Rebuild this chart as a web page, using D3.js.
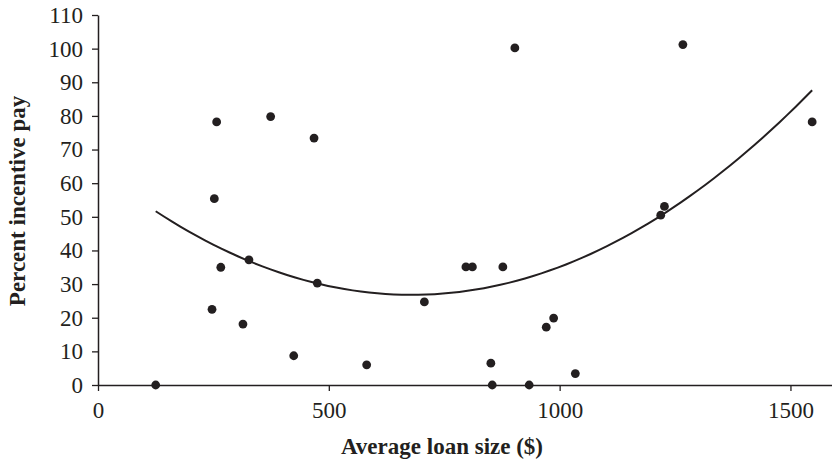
<!DOCTYPE html>
<html>
<head>
<meta charset="utf-8">
<script src="https://cdn.jsdelivr.net/npm/d3@7"></script>
<style>
  html, body { margin: 0; padding: 0; background: #fff; }
  svg { display: block; font-family: "Liberation Serif", "Times New Roman", serif; }
</style>
</head>
<body>
<div id="chart"></div>
<script>
// average loan size ($) and percent incentive pay
const loanSize = [125, 247, 252, 257, 266, 314, 327, 374, 424, 468, 475, 582, 707, 797,
  811, 851, 854, 877, 903, 934, 971, 987, 1034, 1219, 1227, 1267, 1547];
const incentivePay = [0, 22.5, 55.4, 78.2, 35, 18.1, 37.2, 79.8, 8.7, 73.4, 30.3, 6.0, 24.7, 35.1,
  35.1, 6.5, 0, 35.1, 100.2, 0, 17.2, 19.9, 3.4, 50.5, 53.1, 101.2, 78.2];

// quadratic trend curve at a few loan sizes
const trendX = [125, 250, 475, 704, 900, 1000, 1223, 1360, 1462, 1547];
const trendY = [51.6, 41.8, 30.2, 26.8, 30.7, 35.1, 50.7, 64.5, 76.0, 87.7];

const xTicks = [0, 500, 1000, 1500];
const yTicks = [0, 10, 20, 30, 40, 50, 60, 70, 80, 90, 100, 110];

const w = 832;
const h = 463;
const ink = "#231f20";

const points = loanSize.map((d, i) => ({ x: d, y: incentivePay[i] }));

// smooth the readings with a least squares parabola (it is a 2nd order trendline)
function quadFit(xs, ys) {
  const s = [0, 0, 0, 0, 0];
  const t = [0, 0, 0];
  xs.forEach((x, i) => {
    const u = x / 1000;
    for (let k = 0; k < 5; k++) s[k] += Math.pow(u, k);
    for (let k = 0; k < 3; k++) t[k] += ys[i] * Math.pow(u, k);
  });
  const m = [
    [s[0], s[1], s[2], t[0]],
    [s[1], s[2], s[3], t[1]],
    [s[2], s[3], s[4], t[2]]
  ];
  for (let i = 0; i < 3; i++) {
    for (let j = i + 1; j < 3; j++) {
      const f = m[j][i] / m[i][i];
      for (let k = i; k < 4; k++) m[j][k] -= f * m[i][k];
    }
  }
  const c = [0, 0, 0];
  for (let i = 2; i >= 0; i--) {
    let v = m[i][3];
    for (let k = i + 1; k < 3; k++) v -= m[i][k] * c[k];
    c[i] = v / m[i][i];
  }
  return (x) => c[0] + c[1] * (x / 1000) + c[2] * (x / 1000) * (x / 1000);
}

const trend = quadFit(trendX, trendY);
const tMin = d3.min(trendX);
const tMax = d3.max(trendX);
const trendData = d3.range(0, 81).map((i) => {
  const x = tMin + ((tMax - tMin) * i) / 80;
  return { x: x, y: trend(x) };
});

const svg = d3.select("#chart").append("svg").attr("width", w).attr("height", h);

const xScale = d3.scaleLinear().domain([0, 1590]).range([98, 832]);
const yScale = d3.scaleLinear().domain([0, 110]).range([385, 15]);

const xAxis = svg
  .append("g")
  .attr("transform", `translate(0,${yScale(0)})`)
  .call(d3.axisBottom(xScale).tickValues(xTicks).tickFormat(d3.format("d")).tickSizeInner(6).tickSizeOuter(0).tickPadding(11));

const yAxis = svg
  .append("g")
  .attr("transform", `translate(${xScale(0)},0)`)
  .call(d3.axisLeft(yScale).tickValues(yTicks).tickSizeInner(6).tickSizeOuter(0).tickPadding(9));

[xAxis, yAxis].forEach((g) => {
  g.attr("font-family", null).attr("font-size", null);
  g.select(".domain").attr("stroke", ink).attr("stroke-width", 1.5);
  g.selectAll(".tick line").attr("stroke", ink).attr("stroke-width", 1.3);
  g.selectAll(".tick text")
    .attr("fill", ink)
    .attr("font-family", "Liberation Serif")
    .attr("font-size", 23);
});

svg
  .append("path")
  .datum(trendData)
  .attr("fill", "none")
  .attr("stroke", ink)
  .attr("stroke-width", 2)
  .attr("d", d3.line().x((d) => xScale(d.x)).y((d) => yScale(d.y)));

svg
  .selectAll("circle")
  .data(points)
  .enter()
  .append("circle")
  .attr("cx", (d) => xScale(d.x))
  .attr("cy", (d) => yScale(d.y))
  .attr("r", 4.4)
  .attr("fill", ink);

svg
  .append("text")
  .attr("x", 442)
  .attr("y", 454)
  .attr("text-anchor", "middle")
  .attr("font-family", "Liberation Serif")
  .attr("font-weight", "bold")
  .attr("font-size", 23)
  .attr("fill", ink)
  .text("Average loan size ($)");

svg
  .append("text")
  .attr("transform", "translate(25,201) rotate(-90)")
  .attr("text-anchor", "middle")
  .attr("font-family", "Liberation Serif")
  .attr("font-weight", "bold")
  .attr("font-size", 23)
  .attr("fill", ink)
  .text("Percent incentive pay");
</script>
</body>
</html>
